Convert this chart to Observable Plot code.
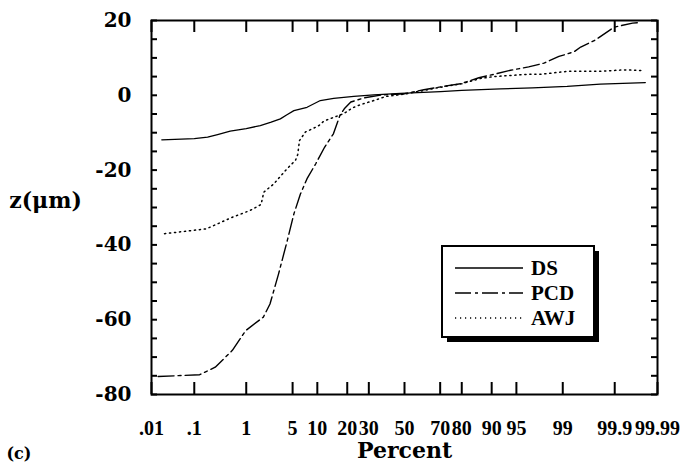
<!DOCTYPE html>
<html><head><meta charset="utf-8">
<script src="https://cdn.jsdelivr.net/npm/d3@7"></script>
<script src="https://cdn.jsdelivr.net/npm/@observablehq/plot@0.6"></script>
<style>body{margin:0;background:#fff}#chart{position:relative;width:684px;height:470px}</style>
</head><body><div id="chart"></div>
<script>
// ---- data (percent on normal-probability axis, z in micrometres) ----
const seriesNames = ["DS", "PCD", "AWJ"];
const dsPercent = [0.018,0.1,0.19,0.3,0.52,1.0,1.7,2.5,3.4,4.2,5.2,7.6,10.8,14.9,22.8,32.6,47.6,70.2,80,92.1,97,99.16,99.8,99.98];
const dsZ       = [-11.9,-11.6,-11.2,-10.5,-9.6,-8.9,-8.1,-7.2,-6.3,-5.2,-4.1,-3.2,-1.4,-0.8,-0.3,0.1,0.5,1.0,1.3,1.7,2.0,2.4,3.0,3.4];
const pcdPercent = [0.0146,0.13,0.27,0.57,0.98,1.9,2.4,3.2,4.25,5.2,6.3,7.6,9.6,12.0,14.8,17.1,18.8,21.5,27.6,36.8,50,61.2,71.8,79.5,86.3,90.5,94.05,96.6,97.98,98.84,99.36,99.52,99.75,99.896,99.96,99.974];
const pcdZ       = [-75.2,-74.7,-72.7,-68.2,-62.9,-59.3,-55.8,-47.8,-38.8,-31.7,-26.4,-22.3,-18.3,-13.9,-10.3,-5.4,-3.6,-1.8,-0.7,0.1,0.4,1.5,2.4,3.1,4.7,5.6,6.7,7.6,8.6,10.4,11.6,12.9,14.8,18.2,19.3,19.5];
const awjPercent = [0.021,0.18,0.57,1.16,1.75,1.93,2.73,4.23,5.45,5.83,6.13,7.27,8.74,10.4,11.8,18.6,22.1,25.9,32.6,39.3,50,68.5,72.7,80,86.8,90.5,96.4,97.7,99.16,99.786,99.937,99.979];
const awjZ       = [-37.0,-35.7,-32.6,-30.8,-29.2,-25.9,-23.7,-19.6,-17.4,-15.8,-12.1,-9.8,-9.0,-8.1,-6.9,-4.9,-3.4,-2.5,-1.4,-0.3,0.3,2.0,2.4,3.1,4.5,5.0,5.6,5.6,6.4,6.4,6.8,6.6];
const tickPercents = [0.01,0.1,1,5,10,20,30,50,70,80,90,95,99,99.9,99.99];
const tickLabels   = [".01",".1","1","5","10","20","30","50","70","80","90","95","99","99.9","99.99"];
const yLabelTicks = [-80,-60,-40,-20,0,20];
const yMinorTicks = d3.range(-80, 21, 5);

// inverse normal CDF (Acklam) for the probability scale
function probit(p){
  const a=[-3.969683028665376e+01,2.209460984245205e+02,-2.759285104469687e+02,1.383577518672690e+02,-3.066479806614716e+01,2.506628277459239e+00];
  const b=[-5.447609879822406e+01,1.615858368580409e+02,-1.556989798598866e+02,6.680131188771972e+01,-1.328068155288572e+01];
  const c=[-7.784894002430293e-03,-3.223964580411365e-01,-2.400758277161838e+00,-2.549732539343734e+00,4.374664141464968e+00,2.938163982698783e+00];
  const d=[7.784695709041462e-03,3.224671290700398e-01,2.445134137142996e+00,3.754408661907416e+00];
  const pl=0.02425; let q,r;
  if(p<pl){q=Math.sqrt(-2*Math.log(p));return (((((c[0]*q+c[1])*q+c[2])*q+c[3])*q+c[4])*q+c[5])/((((d[0]*q+d[1])*q+d[2])*q+d[3])*q+1);}
  if(p<=1-pl){q=p-0.5;r=q*q;return (((((a[0]*r+a[1])*r+a[2])*r+a[3])*r+a[4])*r+a[5])*q/(((((b[0]*r+b[1])*r+b[2])*r+b[3])*r+b[4])*r+1);}
  q=Math.sqrt(-2*Math.log(1-p));return -(((((c[0]*q+c[1])*q+c[2])*q+c[3])*q+c[4])*q+c[5])/((((d[0]*q+d[1])*q+d[2])*q+d[3])*q+1);
}
const px = p => probit(p/100);
const toRows = (P, Z) => P.map((p,i) => ({p, z: Z[i]}));
const ds = toRows(dsPercent, dsZ), pcd = toRows(pcdPercent, pcdZ), awj = toRows(awjPercent, awjZ);
const tickZ = tickPercents.map(px);
const labelOf = new Map(tickZ.map((z,i)=>[z, tickLabels[i]]));

const W=684, H=470, mL=151, mR=27, mT=20, mB=76;
const fw=W-mL-mR, fh=H-mT-mB;
const serif = "Liberation Serif", heavy = "DejaVu Serif";

const chart = Plot.plot({
  width: W, height: H, marginLeft: mL, marginRight: mR, marginTop: mT, marginBottom: mB,
  style: {fontFamily: serif, background: "white", color: "black"},
  x: {type: "linear", domain: [px(0.01), px(99.99)]},
  y: {domain: [-80, 20]},
  marks: [
    Plot.frame({stroke: "black", strokeWidth: 2}),
    Plot.tickX(tickZ, {x: d=>d, insetTop: fh-12, strokeWidth: 2}),
    Plot.tickX(tickZ, {x: d=>d, insetBottom: fh-12, strokeWidth: 2}),
    Plot.tickY(yMinorTicks, {y: d=>d, insetRight: fw-6, strokeWidth: 2}),
    Plot.tickY(yMinorTicks, {y: d=>d, insetLeft: fw-6, strokeWidth: 2}),
    Plot.axisX({ticks: tickZ, tickSize: 0, tickPadding: 26, tickFormat: z=>labelOf.get(z), fontSize: 20, fontWeight: "bold", label: null}),
    Plot.axisY({ticks: yLabelTicks, tickSize: 0, tickPadding: 20, tickFormat: d=>String(d), fontSize: 20, fontWeight: "bold", fontFamily: heavy, label: null}),
    Plot.line(ds,  {x: d=>px(d.p), y: "z", stroke: "black", strokeWidth: 1.3}),
    Plot.line(pcd, {x: d=>px(d.p), y: "z", stroke: "black", strokeWidth: 1.4, strokeDasharray: "16,4,3,4"}),
    Plot.line(awj, {x: d=>px(d.p), y: "z", stroke: "black", strokeWidth: 1.5, strokeDasharray: "1.2,3.8"}),
    Plot.text(["Percent"], {frameAnchor: "bottom", dy: 63, fontSize: 22, fontWeight: "bold", fontFamily: heavy}),
    Plot.text(["z(μm)"], {frameAnchor: "left", textAnchor: "middle", dx: -106, dy: -7, fontSize: 22, fontWeight: "bold", fontFamily: heavy}),
    Plot.text(["(c)"], {frameAnchor: "bottom-left", textAnchor: "start", dx: -mL+6, dy: 64, fontSize: 16, fontWeight: "bold", fontFamily: heavy})
  ]
});
document.getElementById("chart").appendChild(chart);

// legend box (inside the frame, lower right)
const svg = d3.select(chart);
const lg = svg.append("g").attr("class","legend");
const bx=442, by=246, bw=152, bh=91, sh=5;
lg.append("rect").attr("x",bx+sh).attr("y",by+sh).attr("width",bw).attr("height",bh).attr("fill","black");
lg.append("rect").attr("x",bx).attr("y",by).attr("width",bw).attr("height",bh).attr("fill","white").attr("stroke","black").attr("stroke-width",2);
const dashes = [null, "16,4,3,4", "1.2,3.8"];
seriesNames.forEach((name,i)=>{
  const yy = by + 22 + i*25;
  lg.append("line").attr("x1",bx+13).attr("x2",bx+81).attr("y1",yy).attr("y2",yy)
    .attr("stroke","black").attr("stroke-width",1.4).attr("stroke-dasharray",dashes[i]);
  lg.append("text").attr("x",bx+89).attr("y",yy+7).text(name).attr("text-anchor","start")
    .attr("font-family",serif).attr("font-weight","bold").attr("font-size",21).attr("fill","black");
});
</script></body></html>
